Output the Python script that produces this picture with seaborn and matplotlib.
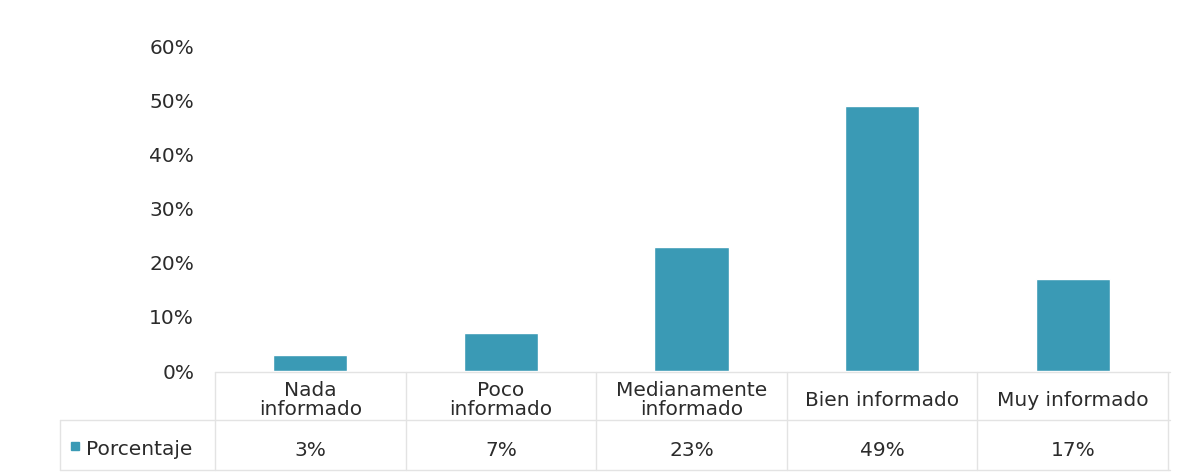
import matplotlib
matplotlib.use("Agg")
import matplotlib.pyplot as plt
import seaborn as sns
import pandas as pd
from matplotlib.lines import Line2D
from matplotlib.patches import Rectangle

categorias = ["Nada\ninformado", "Poco\ninformado", "Medianamente\ninformado",
              "Bien informado", "Muy informado"]
porcentaje = [0.03, 0.07, 0.23, 0.49, 0.17]
etiquetas = ["3%", "7%", "23%", "49%", "17%"]
yticks = [0, 0.1, 0.2, 0.3, 0.4, 0.5, 0.6]
serie = "Porcentaje"

color_barra = "#3a9ab5"
color_linea = "#e3e3e3"
color_texto = "#2b2b2b"
fs = 14.5

sns.set_style("white")
plt.rcParams['font.family'] = ['DejaVu Sans']

df = pd.DataFrame({"cat": categorias, "val": porcentaje})

W, H = 1182, 473
fig = plt.figure(figsize=(W / 100, H / 100), dpi=100)
left, right = 215 / W, 1168 / W
bottom, top = (H - 371) / H, (H - 47) / H
ax = fig.add_axes([left, bottom, right - left, top - bottom])

sns.barplot(data=df, x="cat", y="val", color=color_barra, saturation=1,
            width=0.39, ax=ax)
ax.set_xlim(-0.5, len(categorias) - 0.5)
ax.set_ylim(0, 0.6)
ax.set_yticks(yticks)
ax.set_yticklabels([f"{int(round(t * 100))}%" for t in yticks],
                   fontsize=fs, color=color_texto)
ax.tick_params(axis="y", length=0, pad=15)
ax.set_xticks([])
ax.set_xlabel("")
ax.set_ylabel("")
for s in ax.spines.values():
    s.set_visible(False)

# tabla de datos debajo del eje
def fy(py):
    return (H - py) / H

def fx(px):
    return px / W

y_top, y_mid, y_bot = 372, 420, 470
x_table_left = 60
ncol = len(categorias)
col_w = (1168 - 215) / ncol

for y, x0 in [(y_top, 215), (y_mid, x_table_left), (y_bot, x_table_left)]:
    fig.add_artist(Line2D([fx(x0), fx(1170)], [fy(y), fy(y)],
                          color=color_linea, lw=1))
for i in range(ncol + 1):
    x = 215 + i * col_w
    fig.add_artist(Line2D([fx(x), fx(x)], [fy(y_top), fy(y_bot)],
                          color=color_linea, lw=1))
fig.add_artist(Line2D([fx(x_table_left), fx(x_table_left)], [fy(y_mid), fy(y_bot)],
                      color=color_linea, lw=1))

for i, (c, e) in enumerate(zip(categorias, etiquetas)):
    cx = 215 + (i + 0.5) * col_w
    fig.text(fx(cx), fy(400), c, ha="center", va="center",
             fontsize=fs, color=color_texto, linespacing=0.95)
    fig.text(fx(cx), fy(450), e, ha="center", va="center",
             fontsize=fs, color=color_texto)

fig.add_artist(Rectangle((fx(71), fy(450)), 8 / W, 8 / H, color=color_barra))
fig.text(fx(86), fy(449), serie, ha="left", va="center", fontsize=fs,
         color=color_texto)

fig.savefig("out.png", dpi=100)
